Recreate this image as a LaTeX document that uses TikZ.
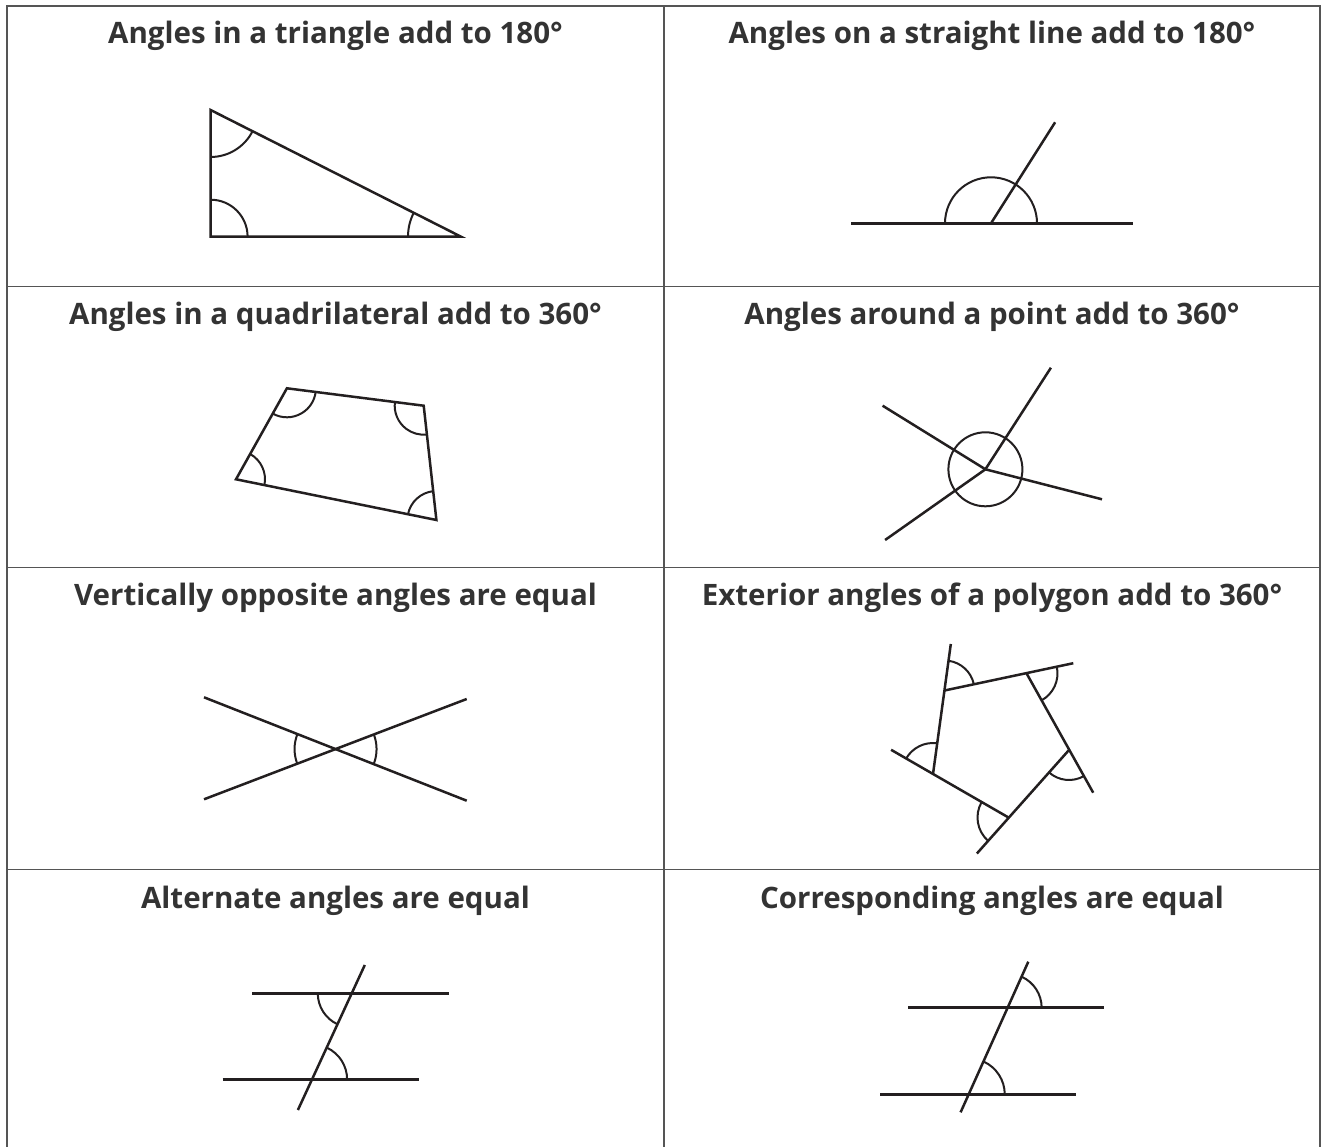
\documentclass[tikz,border=0pt]{standalone}
\usepackage{fontspec}
\setmainfont{Open Sans}
\usetikzlibrary{angles,calc}
\definecolor{ink}{HTML}{231F20}
\definecolor{txt}{HTML}{333333}
\definecolor{rulec}{HTML}{555555}
\tikzset{
  fig/.style={draw=ink, line width=2.5pt},
  ang/.style={draw=ink, line width=2pt},
  title/.style={anchor=base, text=txt, font=\fontsize{29.5}{35}\selectfont\bfseries, inner sep=0pt},
  gridline/.style={draw=rulec, line width=1.6pt}
}
\begin{document}
\begin{tikzpicture}[x=1pt,y=-1pt]
\useasboundingbox (0,0) rectangle (1327,1147);
\fill[white] (0,0) rectangle (1327,1147);
% grid
\coordinate (gTL) at (7,6);
\coordinate (gTR) at (1320,6);
\coordinate (gBL) at (7,1147);
\coordinate (gBR) at (1320,1147);
\coordinate (gMT) at (664,6);
\coordinate (gMB) at (664,1147);
\coordinate (r1L) at (7,286.5);  \coordinate (r1R) at (1320,286.5);
\coordinate (r2L) at (7,567.5);  \coordinate (r2R) at (1320,567.5);
\coordinate (r3L) at (7,869.5);  \coordinate (r3R) at (1320,869.5);
\draw[gridline] (gBL) -- (gTL) -- (gTR) -- (gBR);
\draw[gridline] (gMT) -- (gMB);
\draw[gridline] (r1L) -- (r1R);
\draw[gridline] (r2L) -- (r2R);
\draw[gridline] (r3L) -- (r3R);
% titles
\node[title] (t1) at (335.5,43.5) {Angles in a triangle add to 180°};
\node[title] (t2) at (992,43.5) {Angles on a straight line add to 180°};
\node[title] (t3) at (335.5,325) {Angles in a quadrilateral add to 360°};
\node[title] (t4) at (992,325) {Angles around a point add to 360°};
\node[title] (t5) at (335.5,605.5) {Vertically opposite angles are equal};
\node[title] (t6) at (992,605.5) {Exterior angles of a polygon add to 360°};
\node[title] (t7) at (335.5,908) {Alternate angles are equal};
\node[title] (t8) at (992,908) {Corresponding angles are equal};
% 1 triangle
\coordinate (T1) at (210.6,110);
\coordinate (T2) at (210.6,236.7);
\coordinate (T3) at (461,236.7);
\draw[fig] (T1) -- (T2) -- (T3) -- cycle;
\pic[ang, angle radius=47pt] {angle=T2--T1--T3};
\pic[ang, angle radius=37pt] {angle=T3--T2--T1};
\pic[ang, angle radius=53pt] {angle=T1--T3--T2};
% 2 straight line
\coordinate (L1) at (851.3,223.3);
\coordinate (L2) at (1133.4,223.3);
\coordinate (LO) at (991,223.3);
\coordinate (LR) at (1055.1,122.3);
\draw[fig] (L1) -- (L2);
\draw[fig] (LO) -- (LR);
\pic[ang, angle radius=46pt] {angle=L2--LO--L1};
% 3 quadrilateral
\coordinate (QA) at (286.9,388.3);
\coordinate (QB) at (423.7,405.7);
\coordinate (QC) at (436.4,520);
\coordinate (QD) at (236,479.3);
\draw[fig] (QA) -- (QB) -- (QC) -- (QD) -- cycle;
\pic[ang, angle radius=29pt] {angle=QD--QA--QB};
\pic[ang, angle radius=29pt] {angle=QA--QB--QC};
\pic[ang, angle radius=29pt] {angle=QB--QC--QD};
\pic[ang, angle radius=29pt] {angle=QC--QD--QA};
% 4 around a point
\coordinate (P) at (985.4,469.3);
\coordinate (P1) at (1050.9,367.7);
\coordinate (P2) at (882.6,405.7);
\coordinate (P3) at (1102,499.3);
\coordinate (P4) at (885.1,540);
\draw[fig] (P) -- (P1);
\draw[fig] (P) -- (P2);
\draw[fig] (P) -- (P3);
\draw[fig] (P) -- (P4);
\draw[ang] (P) circle[radius=37pt];
% 5 vertically opposite
\coordinate (X1) at (204,697.3);
\coordinate (X2) at (466.7,800.7);
\coordinate (Y1) at (204,799.3);
\coordinate (Y2) at (466.7,699);
\coordinate (M) at (intersection of X1--X2 and Y1--Y2);
\draw[fig] (X1) -- (X2);
\draw[fig] (Y1) -- (Y2);
\pic[ang, angle radius=41pt] {angle=X1--M--Y1};
\pic[ang, angle radius=41pt] {angle=X2--M--Y2};
% 6 exterior angles
\coordinate (V1) at (944.5,690.5);
\coordinate (V2) at (1026.5,673.3);
\coordinate (V3) at (1069,750);
\coordinate (V4) at (1008.5,817.5);
\coordinate (V5) at (933,774);
\coordinate (E1) at (950.8,644);
\coordinate (E2) at (1073.3,663.2);
\coordinate (E3) at (1093.2,792.7);
\coordinate (E4) at (976.9,853.5);
\coordinate (E5) at (891.1,749.8);
\draw[fig] (V5) -- (E1);
\draw[fig] (V1) -- (E2);
\draw[fig] (V2) -- (E3);
\draw[fig] (V3) -- (E4);
\draw[fig] (V4) -- (E5);
\pic[ang, angle radius=30pt] {angle=V2--V1--E1};
\pic[ang, angle radius=31pt] {angle=V3--V2--E2};
\pic[ang, angle radius=30pt] {angle=V4--V3--E3};
\pic[ang, angle radius=31pt] {angle=V5--V4--E4};
\pic[ang, angle radius=31pt] {angle=V1--V5--E5};
% 7 alternate
\coordinate (U1) at (252.2,993.3);
\coordinate (U2) at (448.5,993.3);
\coordinate (W1) at (222.6,1079.3);
\coordinate (W2) at (418.9,1079.3);
\coordinate (Ta) at (364.8,965);
\coordinate (Tb) at (297.9,1110);
\coordinate (AP1) at (intersection of U1--U2 and Ta--Tb);
\coordinate (AP2) at (intersection of W1--W2 and Ta--Tb);
\draw[fig] (U1) -- (U2);
\draw[fig] (W1) -- (W2);
\draw[fig] (Ta) -- (Tb);
\pic[ang, angle radius=34pt] {angle=U1--AP1--Tb};
\pic[ang, angle radius=35pt] {angle=W2--AP2--Ta};
% 8 corresponding
\coordinate (C1) at (908.1,1007.7);
\coordinate (C2) at (1104.4,1007.7);
\coordinate (D1) at (880.2,1094.3);
\coordinate (D2) at (1075.6,1094.3);
\coordinate (Sa) at (1028.3,961.7);
\coordinate (Sb) at (960.6,1112.3);
\coordinate (CQ1) at (intersection of C1--C2 and Sa--Sb);
\coordinate (CQ2) at (intersection of D1--D2 and Sa--Sb);
\draw[fig] (C1) -- (C2);
\draw[fig] (D1) -- (D2);
\draw[fig] (Sa) -- (Sb);
\pic[ang, angle radius=34pt] {angle=C2--CQ1--Sa};
\pic[ang, angle radius=36pt] {angle=D2--CQ2--Sa};
\end{tikzpicture}
\end{document}
